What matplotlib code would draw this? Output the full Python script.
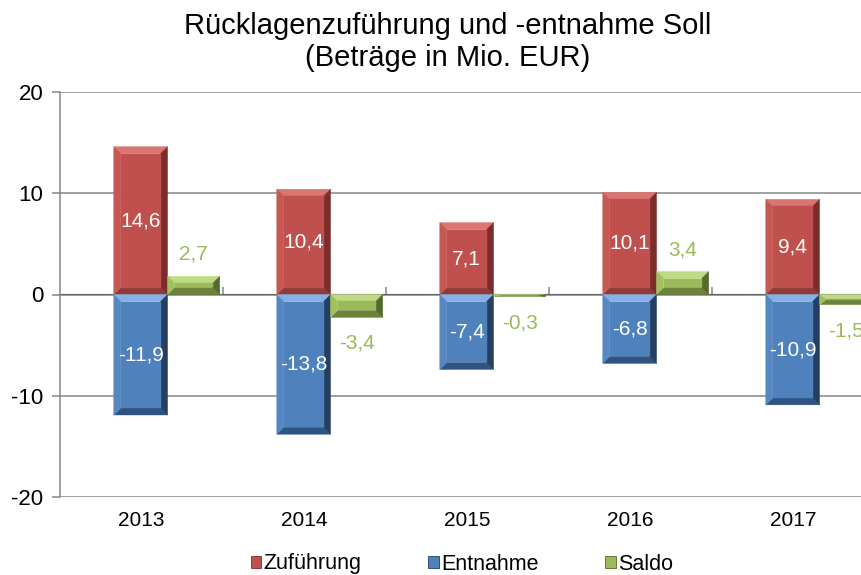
import matplotlib
matplotlib.use("Agg")
import matplotlib.pyplot as plt
from matplotlib.patches import Polygon, Patch

plt.rcParams["font.family"] = ["Liberation Sans", "DejaVu Sans"]
plt.rcParams["axes.unicode_minus"] = False

years = ["2013", "2014", "2015", "2016", "2017"]
zufuehrung = [14.6, 10.4, 7.1, 10.1, 9.4]
entnahme = [-11.9, -13.8, -7.4, -6.8, -10.9]
saldo = [2.7, -3.4, -0.3, 3.4, -1.5]

# main, top bevel, left bevel, right bevel, bottom bevel
RED = ("#C0504D", "#DA7571", "#C65753", "#7A2D2B", "#8E3B39")
BLUE = ("#4F81BD", "#88B0E4", "#5687C3", "#243F60", "#2F5482")
GREEN = ("#9BBB59", "#BEDA85", "#A1C05F", "#56692E", "#6C843A")

W, H, DPI = 861, 575, 100
fig = plt.figure(figsize=(W / DPI, H / DPI), dpi=DPI)
left, right, top, bottom = 60, 875, 92, 497
ax = fig.add_axes([left / W, 1 - bottom / H, (right - left) / W, (bottom - top) / H])
ax2 = ax.twinx()

ax.set_xlim(-0.5, len(years) - 0.5)
ax.set_ylim(-20, 20)
ax2.set_ylim(-30, 30)

px_x = (right - left) / len(years)
px_y1 = (bottom - top) / 40
px_y2 = (bottom - top) / 60


def bevel_bar(axis, x0, x1, v, colors, py, b=7):
    main, light, lside, dark, dbot = colors
    y0, y1 = min(0, v), max(0, v)
    bx = min(b / px_x, (x1 - x0) / 2)
    by = min(b / py, (y1 - y0) / 2)
    rect = [(x0, y0), (x1, y0), (x1, y1), (x0, y1)]
    inner = [(x0 + bx, y0 + by), (x1 - bx, y0 + by), (x1 - bx, y1 - by), (x0 + bx, y1 - by)]
    faces = [
        ([rect[3], rect[2], inner[2], inner[3]], light),
        ([rect[0], rect[1], inner[1], inner[0]], dbot),
        ([rect[0], rect[3], inner[3], inner[0]], lside),
        ([rect[1], rect[2], inner[2], inner[1]], dark),
        (inner, main),
    ]
    for pts, c in faces:
        axis.add_patch(Polygon(pts, closed=True, facecolor=c, edgecolor=c,
                               linewidth=0.3, zorder=3))


def fmt(v):
    return f"{v:.1f}".replace(".", ",")


bw = 0.33
for i in range(len(years)):
    bevel_bar(ax, i - bw / 2 - 0.005, i + bw / 2 - 0.005, zufuehrung[i], RED, px_y1)
    bevel_bar(ax, i - bw / 2 - 0.005, i + bw / 2 - 0.005, entnahme[i], BLUE, px_y1)
    bevel_bar(ax2, i + 0.16, i + 0.48, saldo[i], GREEN, px_y2)
    ax.text(i - 0.005, zufuehrung[i] / 2, fmt(zufuehrung[i]), color="white",
            ha="center", va="center", fontsize=15, zorder=5)
    ax.text(i - 0.005, entnahme[i] / 2, fmt(entnahme[i]), color="white",
            ha="center", va="center", fontsize=15, zorder=5)
    off = 22 if saldo[i] >= 0 else -26
    ax2.annotate(fmt(saldo[i]), (i + 0.32, saldo[i]), xytext=(0, off),
                 textcoords="offset pixels", color="#9BBB59",
                 ha="center", va="center", fontsize=15, zorder=5)

# grid and axes
grey = "#868686"
ax.set_yticks([-20, -10, 0, 10, 20])
ax.yaxis.grid(True, color=grey, linewidth=1.1)
ax.set_axisbelow(True)
for s in ["top", "right", "bottom"]:
    ax.spines[s].set_visible(False)
ax.spines["left"].set_color(grey)
ax.spines["left"].set_linewidth(1.1)
ax.tick_params(axis="y", colors=grey, labelcolor="black", labelsize=16,
               length=6, width=1.1, pad=6)
ax.set_xticks(range(len(years)))
ax.set_xticklabels(years)
ax.tick_params(axis="x", length=0, labelsize=15, pad=10)
ax2.set_yticks([])
for s in ax2.spines.values():
    s.set_visible(False)

zero_axis = ax.secondary_xaxis(0.5)
zero_axis.set_xticks([i + 0.5 for i in range(len(years))])
zero_axis.set_xticklabels([])
zero_axis.tick_params(axis="x", direction="out", length=5, width=1.1, colors=grey)
zero_axis.spines["bottom"].set_color(grey)
zero_axis.spines["bottom"].set_linewidth(1.1)

fig.text(448 / W, 1 - 26 / H, "Rücklagenzuführung und -entnahme Soll",
         ha="center", va="center", fontsize=21)
fig.text(448 / W, 1 - 58 / H, "(Beträge in Mio. EUR)",
         ha="center", va="center", fontsize=21)

handles = [Patch(facecolor=RED[0], edgecolor=RED[3], linewidth=0.6, label="Zuführung"),
           Patch(facecolor=BLUE[0], edgecolor=BLUE[3], linewidth=0.6, label="Entnahme"),
           Patch(facecolor=GREEN[0], edgecolor=GREEN[3], linewidth=0.6, label="Saldo")]
fig.legend(handles=handles, loc="center", bbox_to_anchor=(462 / W, 1 - 564 / H),
           ncol=3, frameon=False, fontsize=15.5, handlelength=0.5, handleheight=0.5,
           handletextpad=0.1, columnspacing=3.1)

fig.savefig("out.png", dpi=DPI)
